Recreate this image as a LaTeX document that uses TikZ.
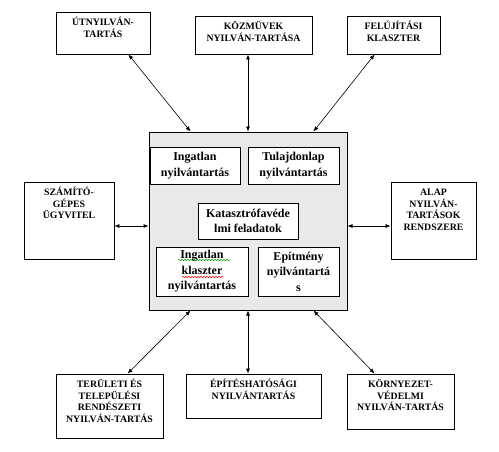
\documentclass[tikz,border=0pt]{standalone}
\usepackage{fontspec}
\setmainfont{Liberation Serif}
\usetikzlibrary{arrows.meta,decorations.pathmorphing}
\newcommand\obox[3]{\parbox[c][#2][t]{#1}{\centering\rule{0pt}{13.5pt}#3}}
\begin{document}
\begin{tikzpicture}[x=1pt,y=-1pt,
  outer/.style={draw, line width=0.8pt, inner sep=0pt, fill=white,
    font=\fontsize{9.8}{11.7}\selectfont\bfseries},
  inbox/.style={draw, line width=0.8pt, fill=white, inner sep=0pt, align=center,
    font=\fontsize{12}{15.5}\selectfont\bfseries},
  link/.style={line width=0.6pt, {Latex[length=5pt,width=4pt]}-{Latex[length=5pt,width=4pt]}}]
\useasboundingbox (0,0) rectangle (499,451);
\fill[white] (0,0) rectangle (499,451);
% central box
\node[draw, line width=1pt, fill=gray!17, minimum width=198pt, minimum height=178pt, inner sep=0pt] (c) at (248,221) {};
% inner boxes
\node[inbox, minimum width=90pt, minimum height=37pt] (in1) at (195,165.5) {Ingatlan\\nyilvántartás};
\node[inbox, minimum width=91pt, minimum height=37pt] (tul) at (293.5,165.5) {Tulajdonlap\\nyilvántartás};
\node[inbox, minimum width=100pt, minimum height=36pt] (kat) at (248,221) {Katasztrófavéde\\lmi feladatok};
\node[inbox, minimum width=92pt, minimum height=49pt] (ikl) at (202,271.5) {Ingatlan\\klaszter\\nyilvántartás};
\node[inbox, minimum width=81pt, minimum height=49pt] (epm) at (298.5,271.5) {Epítmény\\nyilvántartá\\s};
% spell-check underlines
\draw[green!60!black, line width=0.5pt, decorate, decoration={snake, amplitude=0.7pt, segment length=3pt}] (178,260) -- (230,260);
\draw[red, line width=0.5pt, decorate, decoration={snake, amplitude=0.7pt, segment length=3pt}] (182,277) -- (223,277);
% outer boxes
\node[outer] (ut) at (103,33) {\obox{94pt}{42pt}{ÚTNYILVÁN-\\TARTÁS}};
\node[outer] (km) at (253.5,35) {\obox{117pt}{38pt}{KÖZMÜVEK\\NYILVÁN-TARTÁSA}};
\node[outer] (fel) at (393.5,35) {\obox{93pt}{38pt}{FELÚJÍTÁSI\\KLASZTER}};
\node[outer] (szam) at (69,220.5) {\obox{90pt}{77pt}{SZÁMÍTÓ-\\GÉPES\\ÜGYVITEL}};
\node[outer] (alap) at (433.5,220.5) {\obox{85pt}{77pt}{ALAP\\NYILVÁN-\\TARTÁSOK\\RENDSZERE}};
\node[outer] (ter) at (109.5,406) {\obox{107pt}{64pt}{TERÜLETI ÉS\\TELEPÜLÉSI\\RENDÉSZETI\\NYILVÁN-TARTÁS}};
\node[outer] (eph) at (253.5,396) {\obox{135pt}{44pt}{ÉPÍTÉSHATÓSÁGI\\NYILVÁNTARTÁS}};
\node[outer] (kor) at (400.5,401.5) {\obox{107pt}{55pt}{KÖRNYEZET-\\VÉDELMI\\NYILVÁN-TARTÁS}};
% connectors
\draw[link] ([xshift=-22pt]ut.south east) -- ([xshift=42pt]c.north west);
\draw[link] (c.north |- km.south) -- (c.north);
\draw[link] ([xshift=28pt]fel.south west) -- ([xshift=-34pt]c.north east);
\draw[link] ([yshift=-5.5pt]szam.east) -- ([yshift=-5.5pt]szam.east -| c.west);
\draw[link] ([yshift=-5.5pt]alap.west) -- ([yshift=-5.5pt]alap.west -| c.east);
\draw[link] ([xshift=42pt]c.south west) -- ([xshift=72pt]ter.north west);
\draw[link] (c.south) -- (c.south |- eph.north);
\draw[link] ([xshift=-34pt]c.south east) -- ([xshift=28pt]kor.north west);
\end{tikzpicture}
\end{document}
